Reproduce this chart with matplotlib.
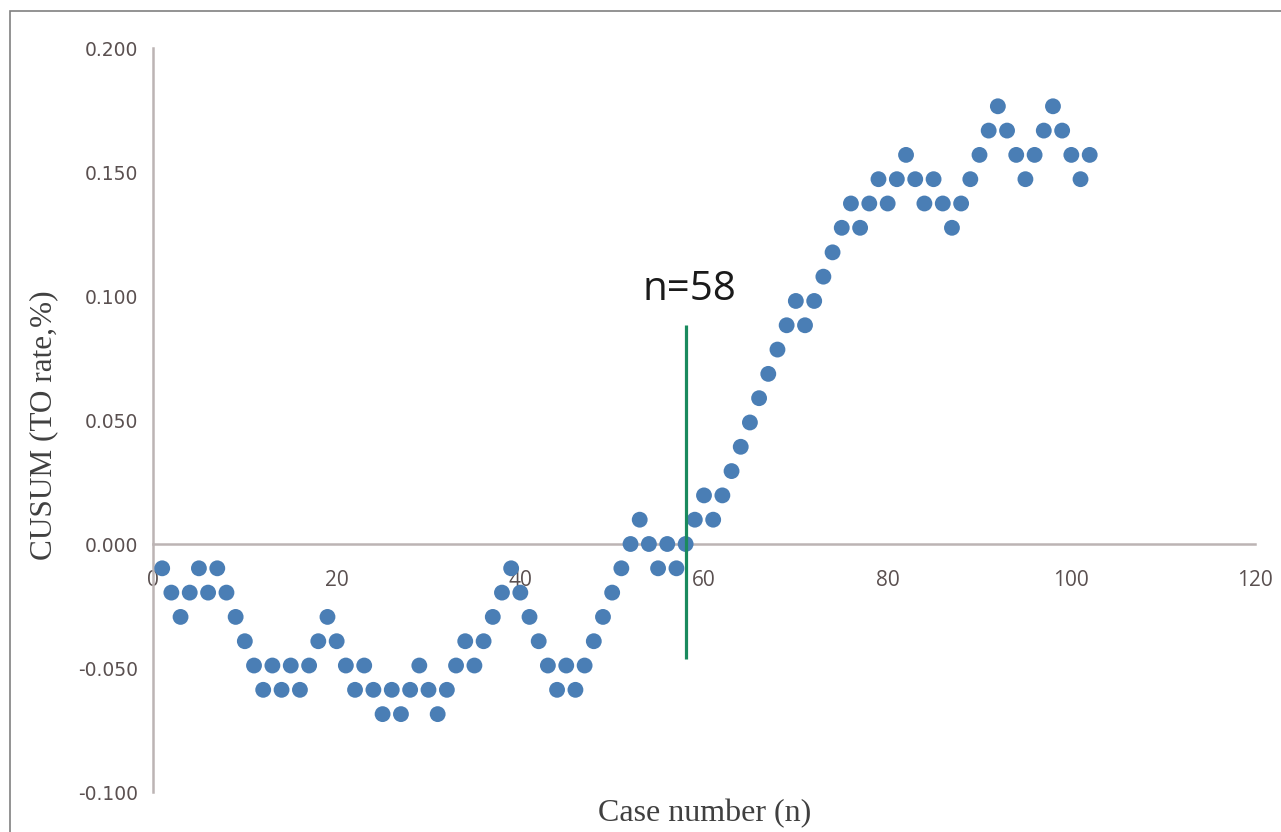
import matplotlib
matplotlib.use('Agg')
import matplotlib.pyplot as plt
from matplotlib.patches import Rectangle
from matplotlib.ticker import FormatStrFormatter

# case number and CUSUM value
case_n = list(range(1, 103))
cusum = [
    -0.0098, -0.0196, -0.0294, -0.0196, -0.0098, -0.0196, -0.0098, -0.0196, -0.0294, -0.0392,
    -0.0490, -0.0588, -0.0490, -0.0588, -0.0490, -0.0588, -0.0490, -0.0392, -0.0294, -0.0392,
    -0.0490, -0.0588, -0.0490, -0.0588, -0.0686, -0.0588, -0.0686, -0.0588, -0.0490, -0.0588,
    -0.0686, -0.0588, -0.0490, -0.0392, -0.0490, -0.0392, -0.0294, -0.0196, -0.0098, -0.0196,
    -0.0294, -0.0392, -0.0490, -0.0588, -0.0490, -0.0588, -0.0490, -0.0392, -0.0294, -0.0196,
    -0.0098, 0.0000, 0.0098, 0.0000, -0.0098, 0.0000, -0.0098, 0.0000, 0.0098, 0.0196,
    0.0098, 0.0196, 0.0294, 0.0392, 0.0490, 0.0588, 0.0686, 0.0784, 0.0882, 0.0980,
    0.0882, 0.0980, 0.1078, 0.1176, 0.1275, 0.1373, 0.1275, 0.1373, 0.1471, 0.1373,
    0.1471, 0.1569, 0.1471, 0.1373, 0.1471, 0.1373, 0.1275, 0.1373, 0.1471, 0.1569,
    0.1667, 0.1765, 0.1667, 0.1569, 0.1471, 0.1569, 0.1667, 0.1765, 0.1667, 0.1569,
    0.1471, 0.1569,
]
cut_n = 58
cut_line = (-0.0464, 0.0883)
x_ticks = [0, 20, 40, 60, 80, 100, 120]
y_ticks = [-0.10, -0.05, 0.0, 0.05, 0.10, 0.15, 0.20]

fig = plt.figure(figsize=(12.81, 8.32), dpi=100)
ax = fig.add_axes([153 / 1281, 40 / 832, 1102 / 1281, 744 / 832])

ax.scatter(case_n, cusum, s=130, color='#4a7eb5', edgecolors='none', zorder=3)
ax.vlines(cut_n, cut_line[0], cut_line[1], color='#1a8a5e', linewidth=2.3, zorder=4)
ax.text(cut_n + 0.4, 0.0985, 'n=58', ha='center', va='baseline',
        fontsize=29, family='Open Sans', color='#1a1a1a')

ax.set_xlim(0, 120)
ax.set_ylim(-0.1, 0.2)
ax.set_xticks(x_ticks)
ax.set_yticks(y_ticks)
ax.yaxis.set_major_formatter(FormatStrFormatter('%.3f'))

for s in ['top', 'right']:
    ax.spines[s].set_visible(False)
ax.spines['bottom'].set_position(('data', 0))
for s in ['left', 'bottom']:
    ax.spines[s].set_color('#bcb4b4')
    ax.spines[s].set_linewidth(1.8)

ax.tick_params(axis='x', length=0, pad=19, labelsize=15, labelcolor='#5a5050')
ax.tick_params(axis='y', length=0, pad=11, labelsize=13.5, labelcolor='#5a5050')
for lab in ax.get_xticklabels():
    lab.set_family('Open Sans')

ax.set_xlabel('Case number (n)', family='Liberation Serif', fontsize=23, color='#404040')
ax.set_ylabel('CUSUM (TO rate,%)', family='Liberation Serif', fontsize=22.5, color='#404040')
ax.xaxis.set_label_coords(0.501, -0.009)
ax.yaxis.set_label_coords(-0.086, 0.493)

fig.patches.append(Rectangle((10 / 1281, -0.1), 1.2, 1.1 - 11 / 832, transform=fig.transFigure,
                             fill=False, edgecolor='#808080', linewidth=1.2))

fig.savefig('out.png', dpi=100)
